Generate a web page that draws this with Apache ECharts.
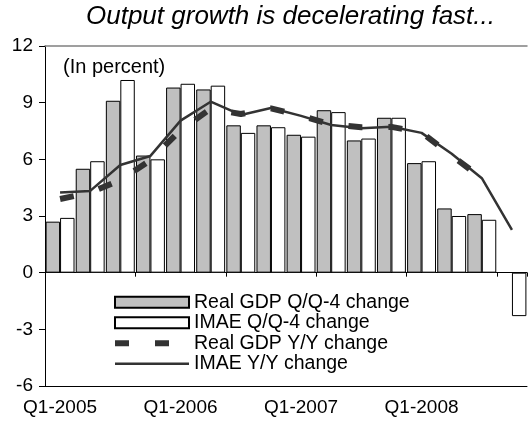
<!DOCTYPE html>
<html>
<head>
<meta charset="utf-8">
<script src="https://cdn.jsdelivr.net/npm/echarts@6/dist/echarts.min.js"></script>
<style>
  html, body { margin: 0; padding: 0; background: #fff; }
  #chart { width: 529px; height: 428px; }
</style>
</head>
<body>
<div id="chart"></div>
<script>
// quarters Q1-2005 .. Q4-2008
const categories = [
  'Q1-2005', 'Q2-2005', 'Q3-2005', 'Q4-2005',
  'Q1-2006', 'Q2-2006', 'Q3-2006', 'Q4-2006',
  'Q1-2007', 'Q2-2007', 'Q3-2007', 'Q4-2007',
  'Q1-2008', 'Q2-2008', 'Q3-2008', 'Q4-2008'
]
const gdpQ4 = [2.7, 5.5, 9.1, 6.2, 9.8, 9.7, 7.8, 7.8, 7.3, 8.6, 7.0, 8.2, 5.8, 3.4, 3.1, null]
const imaeQ4 = [2.9, 5.9, 10.2, 6.0, 10.0, 9.9, 7.4, 7.7, 7.2, 8.5, 7.1, 8.2, 5.9, 3.0, 2.8, -2.3]
const gdpYY = [3.9, 4.24, 4.9, 5.95, 7.55, 8.68, 8.4, 8.7, 8.3, 7.85, 7.7, 7.72, 7.42, 6.2, 5.0, null]
const imaeYY = [4.25, 4.33, 5.7, 6.18, 8.05, 9.05, 8.35, 8.72, 8.3, 7.82, 7.65, 7.73, 7.4, 6.3, 5.0, 2.27]
const yTicks = [-6, -3, 0, 3, 6, 9, 12]

const font = 'Liberation Sans, Arial, sans-serif'
const chart = echarts.init(document.getElementById('chart'))

const gdpDash = { color: '#333', width: 6, type: [14, 26] }
const imaeSolid = { color: '#333', width: 2.5 }

chart.setOption({
  animation: false,
  textStyle: { fontFamily: font, color: '#000' },
  title: {
    text: 'Output growth is decelerating fast...',
    left: 86,
    top: 4,
    padding: 0,
    textStyle: { fontSize: 26, fontStyle: 'italic', fontWeight: 'normal', color: '#000', fontFamily: font }
  },
  graphic: [{
    type: 'text',
    left: 63,
    top: 57,
    style: { text: '(In percent)', fontSize: 20, fill: '#000', fontFamily: font }
  }],
  legend: {
    orient: 'vertical',
    left: 112,
    top: 292,
    padding: 0,
    itemWidth: 74,
    itemHeight: 11,
    itemGap: 0,
    textStyle: { fontSize: 19.5, color: '#000', fontFamily: font, lineHeight: 20.5 },
    data: [
      { name: 'Real GDP Q/Q-4 change', icon: 'rect' },
      { name: 'IMAE Q/Q-4 change', icon: 'rect' },
      { name: 'Real GDP Y/Y change', itemStyle: { opacity: 0 }, lineStyle: gdpDash },
      { name: 'IMAE Y/Y change', itemStyle: { opacity: 0 }, lineStyle: imaeSolid }
    ]
  },
  grid: { left: 45, right: 2, top: 46, bottom: 42, containLabel: false },
  xAxis: [{
    // axis through zero, ticks only
    type: 'category',
    data: categories,
    axisLine: { onZero: true, lineStyle: { color: '#000', width: 1 } },
    axisTick: { show: true, length: 4, lineStyle: { color: '#000' } },
    axisLabel: { show: false }
  }, {
    // bottom frame with labels
    type: 'category',
    data: categories,
    position: 'bottom',
    axisLine: { onZero: false, lineStyle: { color: '#000', width: 1 } },
    axisTick: { show: false },
    axisLabel: { interval: 3, fontSize: 19, margin: 12, color: '#000', fontFamily: font }
  }, {
    // top frame
    type: 'category',
    data: categories,
    position: 'top',
    axisLine: { onZero: false, lineStyle: { color: '#808080', width: 1.5 } },
    axisTick: { show: false },
    axisLabel: { show: false }
  }],
  yAxis: {
    type: 'value',
    min: yTicks[0],
    max: yTicks[yTicks.length - 1],
    interval: 3,
    axisLine: { show: true, lineStyle: { color: '#000', width: 1 } },
    axisTick: { show: true, length: 6, lineStyle: { color: '#000' } },
    splitLine: { show: false },
    axisLabel: { fontSize: 19, margin: 12, color: '#000', fontFamily: font }
  },
  series: [{
    name: 'Real GDP Q/Q-4 change',
    type: 'bar',
    barGap: '0%',
    barCategoryGap: '4%',
    itemStyle: { color: '#c0c0c0', borderColor: '#000', borderWidth: 1 },
    data: gdpQ4
  }, {
    name: 'IMAE Q/Q-4 change',
    type: 'bar',
    itemStyle: { color: '#fff', borderColor: '#000', borderWidth: 1 },
    data: imaeQ4
  }, {
    name: 'IMAE Y/Y change',
    type: 'line',
    symbol: 'none',
    z: 3,
    itemStyle: { color: '#333' },
    lineStyle: imaeSolid,
    data: imaeYY
  }, {
    name: 'Real GDP Y/Y change',
    type: 'line',
    symbol: 'none',
    z: 4,
    itemStyle: { color: '#333' },
    lineStyle: gdpDash,
    data: gdpYY
  }]
})
</script>
</body>
</html>
